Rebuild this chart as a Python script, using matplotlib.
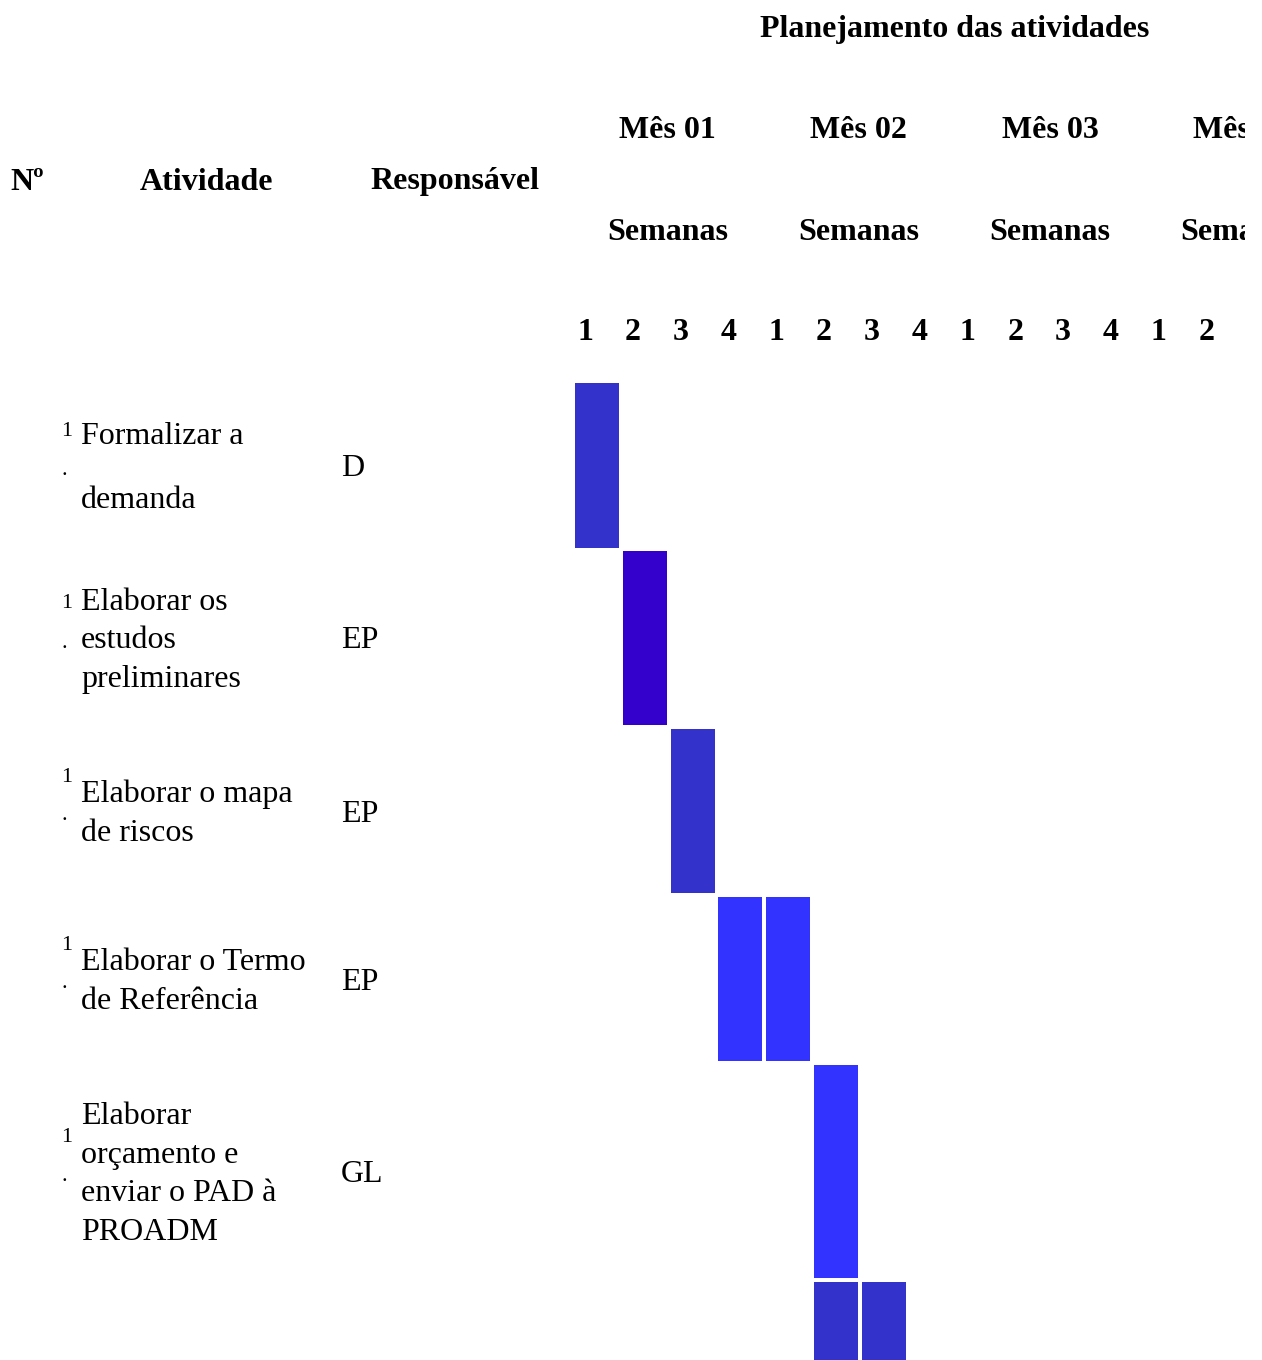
import matplotlib
matplotlib.use("Agg")
import matplotlib.pyplot as plt
from matplotlib.transforms import Bbox, TransformedBbox

plt.rcParams['font.family'] = ['Liberation Serif', 'DejaVu Serif']

# dados do cronograma
titulo = "Planejamento das atividades"
meses = ["Mês 01", "Mês 02", "Mês 03", "Mês 04"]
semanas = [1, 2, 3, 4, 1, 2, 3, 4, 1, 2, 3, 4, 1, 2]
numeros = ["1.", "1.", "1.", "1.", "1.", ""]
atividades = [
    ["Formalizar a", "demanda"],
    ["Elaborar os", "estudos", "preliminares"],
    ["Elaborar o mapa", "de riscos"],
    ["Elaborar o Termo", "de Referência"],
    ["Elaborar", "orçamento e", "enviar o PAD à", "PROADM"],
    [],
]
responsaveis = ["D", "EP", "EP", "EP", "GL", ""]
inicio_semana = [0, 1, 2, 3, 5, 5]
duracao = [1, 1, 1, 2, 1, 2]
cores = ["#3333CC", "#3300CC", "#3333CC", "#3333FF", "#3333FF", "#3333CC"]

# layout (pixels)
W, H = 1262, 1360
col0, pitch, col_w = 575, 47.8, 44
row_top = [383, 551, 729, 897, 1065, 1282]
row_h = [165, 174, 164, 164, 213, 200]
line_gap = [64, 38.7, 38.7, 38.7, 38.7, 38.7]
fs = 23
fs_small = 16
dy = 3  # ajuste vertical do texto

fig = plt.figure(figsize=(W / 100, H / 100), dpi=100)
ax = fig.add_axes([0, 0, 1, 1])
ax.set_xlim(0, W)
ax.set_ylim(H, 0)
ax.axis('off')

# a última coluna de meses aparece cortada na imagem original
clip = TransformedBbox(Bbox([[0, 0], [1245, H]]), ax.transData)

# cabeçalho
ax.text(955, 27 + dy, titulo, ha='center', va='center', fontsize=fs, fontweight='bold')
ax.text(10, 179 + dy, "Nº", ha='left', va='center', fontsize=fs, fontweight='bold')
ax.text(207, 179 + dy, "Atividade", ha='center', va='center', fontsize=fs, fontweight='bold')
ax.text(455, 179 + dy, "Responsável", ha='center', va='center', fontsize=fs, fontweight='bold')

for i, mes in enumerate(meses):
    cx = col0 + i * 4 * pitch + 2 * pitch - 3
    for y, txt in [(127, mes), (229, "Semanas")]:
        t = ax.text(cx, y + dy, txt, ha='center', va='center', fontsize=fs, fontweight='bold')
        t.set_clip_box(clip)
        t.set_clip_on(True)

for j, s in enumerate(semanas):
    ax.text(col0 + j * pitch + 2, 330 + dy, str(s), ha='left', va='center',
            fontsize=fs, fontweight='bold')

# linhas das atividades
for i in range(len(atividades)):
    yc = row_top[i] + row_h[i] / 2
    linhas = atividades[i]
    n = len(linhas)
    for k, linha in enumerate(linhas):
        y = yc + (k - (n - 1) / 2) * line_gap[i] + dy
        ax.text(81, y, linha, ha='left', va='center', fontsize=fs)
    if numeros[i]:
        ax.text(67, yc - 37 + dy, numeros[i][0], ha='center', va='center', fontsize=fs_small)
        ax.text(64, yc + 2 + dy, numeros[i][1], ha='center', va='center', fontsize=fs_small)
    if responsaveis[i]:
        ax.text(341, yc + dy, responsaveis[i], ha='left', va='center', fontsize=fs)

    # barras semanais
    semanas_ativas = range(inicio_semana[i], inicio_semana[i] + duracao[i])
    xs = [col0 + w * pitch for w in semanas_ativas]
    ax.bar(xs, [row_h[i]] * len(xs), width=col_w, bottom=row_top[i],
           align='edge', color=cores[i], linewidth=0)

fig.savefig("out.png", dpi=100)
